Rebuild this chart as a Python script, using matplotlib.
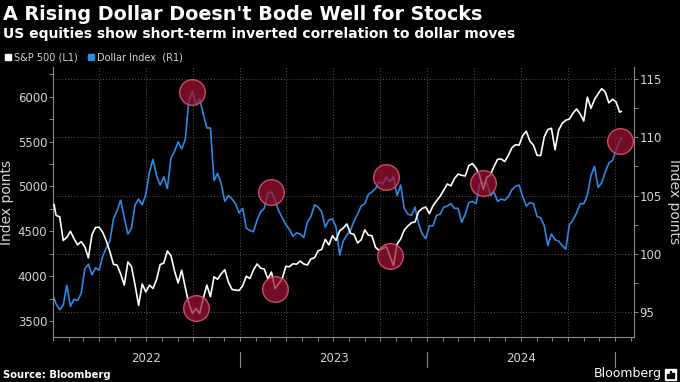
import matplotlib
matplotlib.use('Agg')
import matplotlib.pyplot as plt
import matplotlib.dates as mdates
import numpy as np
import pandas as pd
from matplotlib.patches import Rectangle
from matplotlib.lines import Line2D
from matplotlib.ticker import MultipleLocator, FixedLocator
from matplotlib.transforms import blended_transform_factory

# ---------------- data ----------------
dates = (pd.DatetimeIndex(['2022-01-03'])
         .append(pd.date_range('2022-01-07', '2025-01-10', freq='W-FRI'))
         .append(pd.DatetimeIndex(['2025-01-13'])))

spx = [4797,
       # 2022
       4677, 4662, 4398, 4432, 4500, 4418, 4349, 4385, 4329, 4204, 4463, 4543, 4546,
       4488, 4392, 4272, 4132, 4123, 4024, 3901, 4158, 4109, 3901, 3675, 3912, 3825,
       3899, 3863, 3962, 4130, 4145, 4280, 4228, 4058, 3924, 4067, 3873, 3693, 3586,
       3640, 3583, 3752, 3901, 3771, 3993, 3965, 4026, 4072, 3934, 3852, 3845, 3840,
       # 2023
       3895, 3999, 3973, 4071, 4136, 4090, 4079, 3970, 4046, 3862, 3917, 3971, 4109,
       4105, 4138, 4133, 4169, 4136, 4124, 4192, 4205, 4282, 4299, 4410, 4348, 4450,
       4399, 4505, 4536, 4582, 4478, 4464, 4370, 4406, 4516, 4457, 4450, 4320, 4288,
       4308, 4327, 4224, 4117, 4358, 4415, 4514, 4559, 4595, 4604, 4719, 4755, 4770,
       # 2024
       4697, 4784, 4840, 4891, 4959, 5027, 5006, 5089, 5137, 5124, 5117, 5234, 5254,
       5204, 5123, 4967, 5100, 5128, 5223, 5303, 5305, 5278, 5347, 5431, 5465, 5460,
       5567, 5615, 5505, 5459, 5346, 5344, 5554, 5634, 5648, 5408, 5626, 5703, 5738,
       5751, 5815, 5864, 5808, 5729, 5995, 5870, 5969, 6032, 6090, 6051, 5931, 5971,
       # 2025
       5942, 5827, 5836]

dxy = [96.2,
       # 2022
       95.7, 95.2, 95.6, 97.3, 95.5, 96.1, 96.0, 96.6, 98.7, 99.1, 98.2, 98.8, 98.6,
       99.8, 100.5, 101.1, 103.0, 103.7, 104.6, 103.1, 101.7, 102.2, 104.2, 104.7, 104.2, 105.1,
       107.0, 108.1, 106.7, 105.9, 106.6, 105.6, 108.2, 108.8, 109.6, 109.0, 109.8, 113.2, 113.9,
       112.8, 113.3, 112.0, 110.8, 110.8, 106.3, 106.9, 106.0, 104.5, 105.0, 104.7, 104.3, 103.5,
       # 2023
       103.9, 102.2, 102.0, 101.9, 102.9, 103.6, 103.9, 105.2, 105.3, 104.6, 103.7, 103.1, 102.5,
       102.1, 101.5, 101.8, 101.7, 101.4, 102.7, 103.2, 104.2, 104.0, 103.6, 102.3, 102.9, 103.0,
       102.3, 99.9, 101.1, 101.6, 102.0, 102.8, 103.4, 104.1, 104.3, 105.1, 105.3, 105.6, 106.2,
       106.0, 106.6, 106.2, 106.6, 105.0, 105.9, 103.9, 103.4, 103.3, 104.0, 102.6, 101.7, 101.3,
       # 2024
       102.4, 102.4, 103.3, 103.4, 104.0, 104.1, 104.3, 103.9, 103.9, 102.7, 103.4, 104.4, 104.5,
       104.3, 106.0, 106.1, 106.1, 105.0, 105.3, 104.5, 104.7, 104.6, 104.9, 105.5, 105.8, 105.9,
       104.9, 104.1, 104.4, 104.3, 103.2, 103.1, 102.4, 100.7, 101.7, 101.2, 101.1, 100.7, 100.4,
       102.5, 102.9, 103.5, 104.3, 104.3, 105.0, 106.7, 107.5, 105.7, 106.1, 107.0, 107.8, 108.0,
       # 2025
       108.9, 109.7, 109.9]

left_ticks = [3500, 4000, 4500, 5000, 5500, 6000]
right_ticks = [95, 100, 105, 110, 115]
years = [2022, 2023, 2024]
dxy_highlight_dates = ['2022-09-30', '2023-03-03', '2023-10-13', '2024-04-19', '2025-01-10']
spx_highlight_dates = ['2022-10-07', '2023-03-10', '2023-10-20']

title = "A Rising Dollar Doesn't Bode Well for Stocks"
subtitle = "US equities show short-term inverted correlation to dollar moves"

# ---------------- style ----------------
W, H = 680, 382
BG = 'black'
TXT = '#d4d4d4'
SPINE = '#8a8a8a'
GRID = '#555555'
BLUE = '#2b8ae6'

fig = plt.figure(figsize=(W / 100, H / 100), dpi=100, facecolor=BG)
ax = fig.add_axes([53 / W, 45 / H, 581 / W, 270 / H])
ax2 = ax.twinx()
ax.set_facecolor(BG)

s_spx = pd.Series(spx, index=dates)
s_dxy = pd.Series(dxy, index=dates)

ax2.plot(dates, dxy, color=BLUE, lw=1.2, zorder=3)
ax.plot(dates, spx, color='white', lw=1.2, zorder=3)
ax.set_zorder(ax2.get_zorder() + 1)
ax.patch.set_visible(False)

# highlight circles
circ_kw = dict(s=340, facecolor=(0.62, 0.08, 0.2, 0.72), edgecolor=(0.86, 0.32, 0.45, 0.9),
               linewidths=1.0, zorder=6)
hd = pd.to_datetime(dxy_highlight_dates)
ax.scatter(mdates.date2num(hd), s_dxy.loc[hd].values, transform=ax2.transData, **circ_kw)
hs = pd.to_datetime(spx_highlight_dates)
ax.scatter(mdates.date2num(hs), s_spx.loc[hs].values, **circ_kw)

# limits
xmin, xmax = pd.Timestamp('2022-01-01'), pd.Timestamp('2025-02-07')
ax.set_xlim(xmin, xmax)
ax.set_ylim(3322, 6331)
ax2.set_ylim(92.86, 116.03)

# grids
ax2.yaxis.set_major_locator(FixedLocator(right_ticks))
ax2.yaxis.set_minor_locator(MultipleLocator(2.5))
ax2.grid(axis='y', which='major', color=GRID, ls=(0, (1, 2)), lw=0.7)
for q in pd.date_range('2022-04-01', '2025-01-01', freq='QS'):
    ax2.axvline(q, color=GRID, ls=(0, (1, 2)), lw=0.7, zorder=1)

# ticks
ax.xaxis.set_major_locator(mdates.MonthLocator())
ax.tick_params(axis='x', which='major', length=3, width=0.7, color=SPINE, labelbottom=False,
               direction='out')
ax.yaxis.set_major_locator(FixedLocator(left_ticks))
ax.yaxis.set_minor_locator(MultipleLocator(250))
ax.tick_params(axis='y', which='both', length=3, width=0.7, color=SPINE, labelcolor=TXT,
               labelsize=8.5, pad=1)
ax2.tick_params(axis='y', which='both', length=3, width=0.7, color=SPINE, labelcolor=TXT,
                labelsize=8.5, pad=1)

for s in ['top', 'right']:
    ax.spines[s].set_visible(False)
for s in ['top', 'left', 'bottom']:
    ax2.spines[s].set_visible(False)
for s in ['left', 'bottom']:
    ax.spines[s].set_color(SPINE)
ax2.spines['right'].set_color(SPINE)

ax.set_ylabel('Index points', color=TXT, fontsize=10, labelpad=3)
ax2.set_ylabel('Index points', color=TXT, fontsize=10, rotation=270, va='bottom', labelpad=4)

# year labels and separators
trans = blended_transform_factory(ax.transData, ax.transAxes)
for y in years:
    ax.text(mdates.date2num(pd.Timestamp(f'{y}-07-02')), -0.078, str(y), transform=trans,
            ha='center', va='center', color=TXT, fontsize=8.5)
for y in years:
    xd = mdates.date2num(pd.Timestamp(f'{y + 1}-01-01'))
    ax.add_line(Line2D([xd, xd], [-0.056, -0.111], transform=trans, color=SPINE, lw=0.8,
                       clip_on=False))

# titles
fig.text(3 / W, 1 - 20 / H, title, color='white', fontsize=13.8, fontweight='bold', va='baseline')
fig.text(3 / W, 1 - 38 / H, subtitle, color='white', fontsize=10.0, fontweight='bold',
         va='baseline')

# legend
fig.patches.append(Rectangle((5 / W, 1 - 60 / H), 6 / W, 6 / H, transform=fig.transFigure,
                             color='white'))
fig.text(14 / W, 1 - 57 / H, 'S&P 500 (L1)', color=TXT, fontsize=7, va='center')
fig.patches.append(Rectangle((88 / W, 1 - 60 / H), 6 / W, 6 / H, transform=fig.transFigure,
                             color=BLUE))
fig.text(97 / W, 1 - 57 / H, 'Dollar Index  (R1)', color=TXT, fontsize=7, va='center')

# footer
fig.text(3 / W, 1 - 375 / H, 'Source: Bloomberg', color='white', fontsize=7.2,
         fontweight='bold', va='center')
fig.text(594 / W, 1 - 374 / H, 'Bloomberg', color='white', fontsize=9, va='center')
fig.patches.append(Rectangle((665 / W, 1 - 380 / H), 11 / W, 11 / H, transform=fig.transFigure,
                             color='white'))
for i, h in enumerate([4, 7, 5]):
    fig.patches.append(Rectangle(((667 + i * 2.6) / W, 1 - 378 / H), 1.6 / W, h / H,
                                 transform=fig.transFigure, color='black'))

fig.savefig('out.png', dpi=100, facecolor=BG)
